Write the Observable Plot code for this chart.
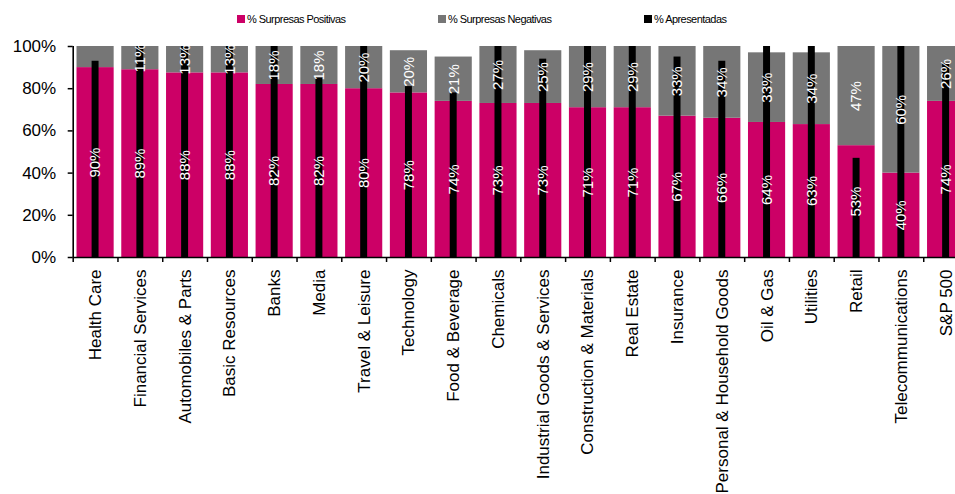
<!DOCTYPE html>
<html><head><meta charset="utf-8">
<script src="https://cdn.jsdelivr.net/npm/d3@7"></script>
<script src="https://cdn.jsdelivr.net/npm/@observablehq/plot@0.6"></script>
<style>
html,body{margin:0;padding:0;background:#fff;overflow:hidden;}
#wrap{position:relative;width:955px;height:494px;overflow:hidden;font-family:"Liberation Sans",Arial,sans-serif;}
#chart{position:absolute;left:0;top:0;}
.leg{position:absolute;top:12px;font-size:11px;line-height:14px;color:#000;display:flex;align-items:center;letter-spacing:-0.55px;white-space:nowrap}
.leg i{display:inline-block;width:8px;height:8px;margin-right:2px}
</style></head><body>
<div id="wrap"><div id="chart"></div></div>
<script>
const categories = ["Health Care","Financial Services","Automobiles & Parts","Basic Resources","Banks","Media","Travel & Leisure","Technology","Food & Beverage","Chemicals","Industrial Goods & Services","Construction & Materials","Real Estate","Insurance","Personal & Household Goods","Oil & Gas","Utilities","Retail","Telecommunications","S&P 500"];
const positivas    = [90, 89, 87.5, 87.5, 82, 82, 80, 78, 74, 73, 73, 71, 71, 67, 66, 64, 63, 53, 40, 74];
const negativas    = [10, 11, 12.5, 12.5, 18, 18, 20, 20, 21, 27, 25, 29, 29, 33, 34, 33, 34, 47, 60, 26];
const apresentadas = [93, 100, 100, 100, 100, 85, 100, 81, 78, 100, 94, 100, 100, 95, 93, 100, 100, 47, 100, 92];
const seriesNames  = ["% Surpresas Positivas", "% Surpresas Negativas", "% Apresentadas"];
const seriesColors = ["#CC0066", "#767676", "#000000"];
const yTicks = [0, 20, 40, 60, 80, 100];

const data = categories.map((c, i) => ({cat: c, pos: positivas[i], neg: negativas[i], apr: apresentadas[i]}));

// legend
const legendLeft = [237, 438, 644];
const wrap = document.getElementById("wrap");
seriesNames.forEach((n, i) => {
  const d = document.createElement("div");
  d.className = "leg";
  d.style.left = legendLeft[i] + "px";
  d.innerHTML = `<i style="background:${seriesColors[i]}"></i>`;
  d.appendChild(document.createTextNode(n));
  wrap.appendChild(d);
});

const W = 955, H = 494;
const left = 72.7, right = 968;
const half = (right - left) / categories.length / 2;

const chart = Plot.plot({
  width: W, height: H,
  marginTop: 46, marginBottom: H - 257, marginLeft: left, marginRight: W - right,
  style: {fontFamily: "'Liberation Sans', Arial, sans-serif", fontSize: "17px", color: "#000", background: "transparent", overflow: "visible"},
  x: {domain: categories, paddingInner: 0.17, paddingOuter: 0.085, round: false, label: null},
  y: {domain: [0, 100], label: null},
  marks: [
    Plot.rectY(data, {x: "cat", y1: 0, y2: "pos", fill: seriesColors[0]}),
    Plot.rectY(data, {x: "cat", y1: "pos", y2: d => d.pos + d.neg, fill: seriesColors[1]}),
    Plot.rectY(data, {x: "cat", y1: 0, y2: "apr", fill: seriesColors[2], insetLeft: 15.1, insetRight: 15.1}),
    Plot.text(data, {x: "cat", y: d => d.pos / 2, text: d => Math.round(d.pos) + "%", rotate: -90, fill: "white", fontSize: 15}),
    Plot.text(data.filter(d => d.neg > 10), {x: "cat", y: d => d.pos + d.neg / 2, text: d => Math.round(d.neg) + "%", rotate: -90, fill: "white", fontSize: 15}),
    Plot.axisY({ticks: yTicks, tickFormat: d => d + "%", tickSize: 5, tickPadding: 12, strokeWidth: 1.5, fontSize: 17}),
    Plot.axisX({tickSize: 0, tickPadding: 12, tickRotate: -90, fontSize: 17}),
    Plot.ruleX([categories[0]], {x: d => d, dx: -half, y1: 0, y2: 100, stroke: "#000", strokeWidth: 1.6}),
    Plot.ruleX(categories, {x: d => d, dx: -half, y1: 0, y2: 0, insetBottom: -5, stroke: "#000", strokeWidth: 1.5}),
    Plot.ruleY([0], {stroke: "#000", strokeWidth: 1.6})
  ]
});
document.getElementById("chart").appendChild(chart);
</script>
</body></html>
